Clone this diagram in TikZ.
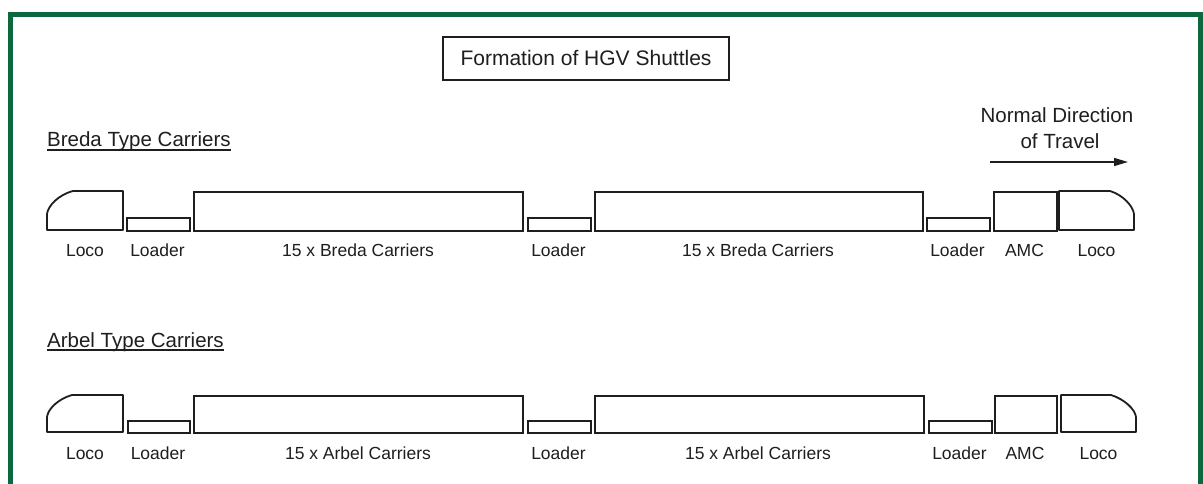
\documentclass[tikz,border=0pt]{standalone}
\usepackage{fontspec}
\setmainfont{Liberation Sans}
\usetikzlibrary{arrows.meta}
\definecolor{framegreen}{RGB}{12,104,62}
\definecolor{ink}{RGB}{30,30,30}
\newcommand\vehbox[5]{\node[vehstyle,minimum width=#4pt,minimum height=#5pt] (#1) at (#2,#3) {};}
\begin{document}
\begin{tikzpicture}[x=1pt,y=-1pt,
  vehstyle/.style={draw=ink,line width=1.8pt,rectangle,inner sep=0pt,anchor=north west},
  locobody/.style={draw=ink,line width=1.8pt,line join=round},
  locoanchor/.style={rectangle,inner sep=0pt,anchor=north west,minimum width=76pt,minimum height=39pt},
  lab/.style={font=\fontsize{17.5}{20}\selectfont,text=ink,anchor=base,inner sep=0pt},
  head/.style={font=\fontsize{20.5}{24}\selectfont,text=ink,anchor=base west,inner sep=0pt},
  dirtext/.style={font=\fontsize{20.5}{24}\selectfont,text=ink,anchor=base,inner sep=0pt},
  underl/.style={draw=ink,line width=1.3pt},
]
\useasboundingbox (0,0) rectangle (1203,484);
\fill[white] (0,0) rectangle (1203,484);
\begin{scope}
\clip (0,0) rectangle (1203,484);
\draw[framegreen,line width=5pt] (10.5,495) -- (10.5,14.5) -- (1200,14.5) -- (1200,495);
\end{scope}

% title
\node[draw=ink,line width=1.6pt,minimum width=286pt,minimum height=43pt,inner sep=0pt,
      text height=15pt,text depth=0pt,font=\fontsize{21}{24}\selectfont,text=ink] (title) at (586,58.5) {Formation of HGV Shuttles};

% direction
\node[dirtext] (dir1) at (1057,123) {Normal Direction};
\node[dirtext] (dir2) at (1060,149) {of Travel};
\coordinate (arrS) at (990,162);
\coordinate (arrE) at (1128,162);
\draw[draw=ink,line width=1.5pt,-{Triangle[length=14pt,width=8pt]}] (arrS) -- (arrE);

% headings
\node[head] (hB) at (47,147) {Breda Type Carriers};
\draw[underl] ([yshift=-3pt]hB.base west) -- ([yshift=-3pt]hB.base east);
\node[head] (hA) at (47,347) {Arbel Type Carriers};
\draw[underl] ([yshift=-3pt]hA.base west) -- ([yshift=-3pt]hA.base east);

% ---------- Row 1 : Breda ----------
\node[locoanchor] (B1) at (47,191) {};
\draw[locobody] (47,230) -- (47,214) .. controls (48,206) and (58,195) .. (73,191) -- (123,191) -- (123,230) -- cycle;
\vehbox{B2}{126}{217}{63}{13}
\vehbox{B3}{193}{191}{329}{39}
\vehbox{B4}{527}{217}{63}{13}
\vehbox{B5}{594}{191}{328}{39}
\vehbox{B6}{926}{217}{63}{13}
\vehbox{B7}{993}{191}{63}{39}
\node[locoanchor,minimum width=75pt] (B8) at (1059,191) {};
\draw[locobody] (1059,230) -- (1059,191) -- (1110,191) .. controls (1123,195) and (1133,206) .. (1134,214) -- (1134,230) -- cycle;

\node[lab] (bl1) at (85,256) {Loco};
\node[lab] (bl2) at (157.5,256) {Loader};
\node[lab] (bl3) at (358,256) {15 x Breda Carriers};
\node[lab] (bl4) at (558.5,256) {Loader};
\node[lab] (bl5) at (758,256) {15 x Breda Carriers};
\node[lab] (bl6) at (957.5,256) {Loader};
\node[lab] (bl7) at (1024.5,256) {AMC};
\node[lab] (bl8) at (1096.5,256) {Loco};

% ---------- Row 2 : Arbel ----------
\node[locoanchor,minimum height=37pt] (A1) at (47,395) {};
\draw[locobody] (47,432) -- (47,417) .. controls (48,409) and (58,399) .. (72,395) -- (123,395) -- (123,432) -- cycle;
\vehbox{A2}{127}{420}{62}{12}
\vehbox{A3}{193}{395}{329}{37}
\vehbox{A4}{527}{420}{63}{12}
\vehbox{A5}{594}{395}{329}{37}
\vehbox{A6}{928}{420}{63}{12}
\vehbox{A7}{994}{395}{62}{37}
\node[locoanchor,minimum width=75pt,minimum height=37pt] (A8) at (1061,395) {};
\draw[locobody] (1061,432) -- (1061,395) -- (1111,395) .. controls (1124,399) and (1135,409) .. (1136,417) -- (1136,432) -- cycle;

\node[lab] (al1) at (85,459) {Loco};
\node[lab] (al2) at (158,459) {Loader};
\node[lab] (al3) at (358,459) {15 x Arbel Carriers};
\node[lab] (al4) at (558.5,459) {Loader};
\node[lab] (al5) at (758,459) {15 x Arbel Carriers};
\node[lab] (al6) at (959.5,459) {Loader};
\node[lab] (al7) at (1025,459) {AMC};
\node[lab] (al8) at (1098.5,459) {Loco};
\end{tikzpicture}
\end{document}
